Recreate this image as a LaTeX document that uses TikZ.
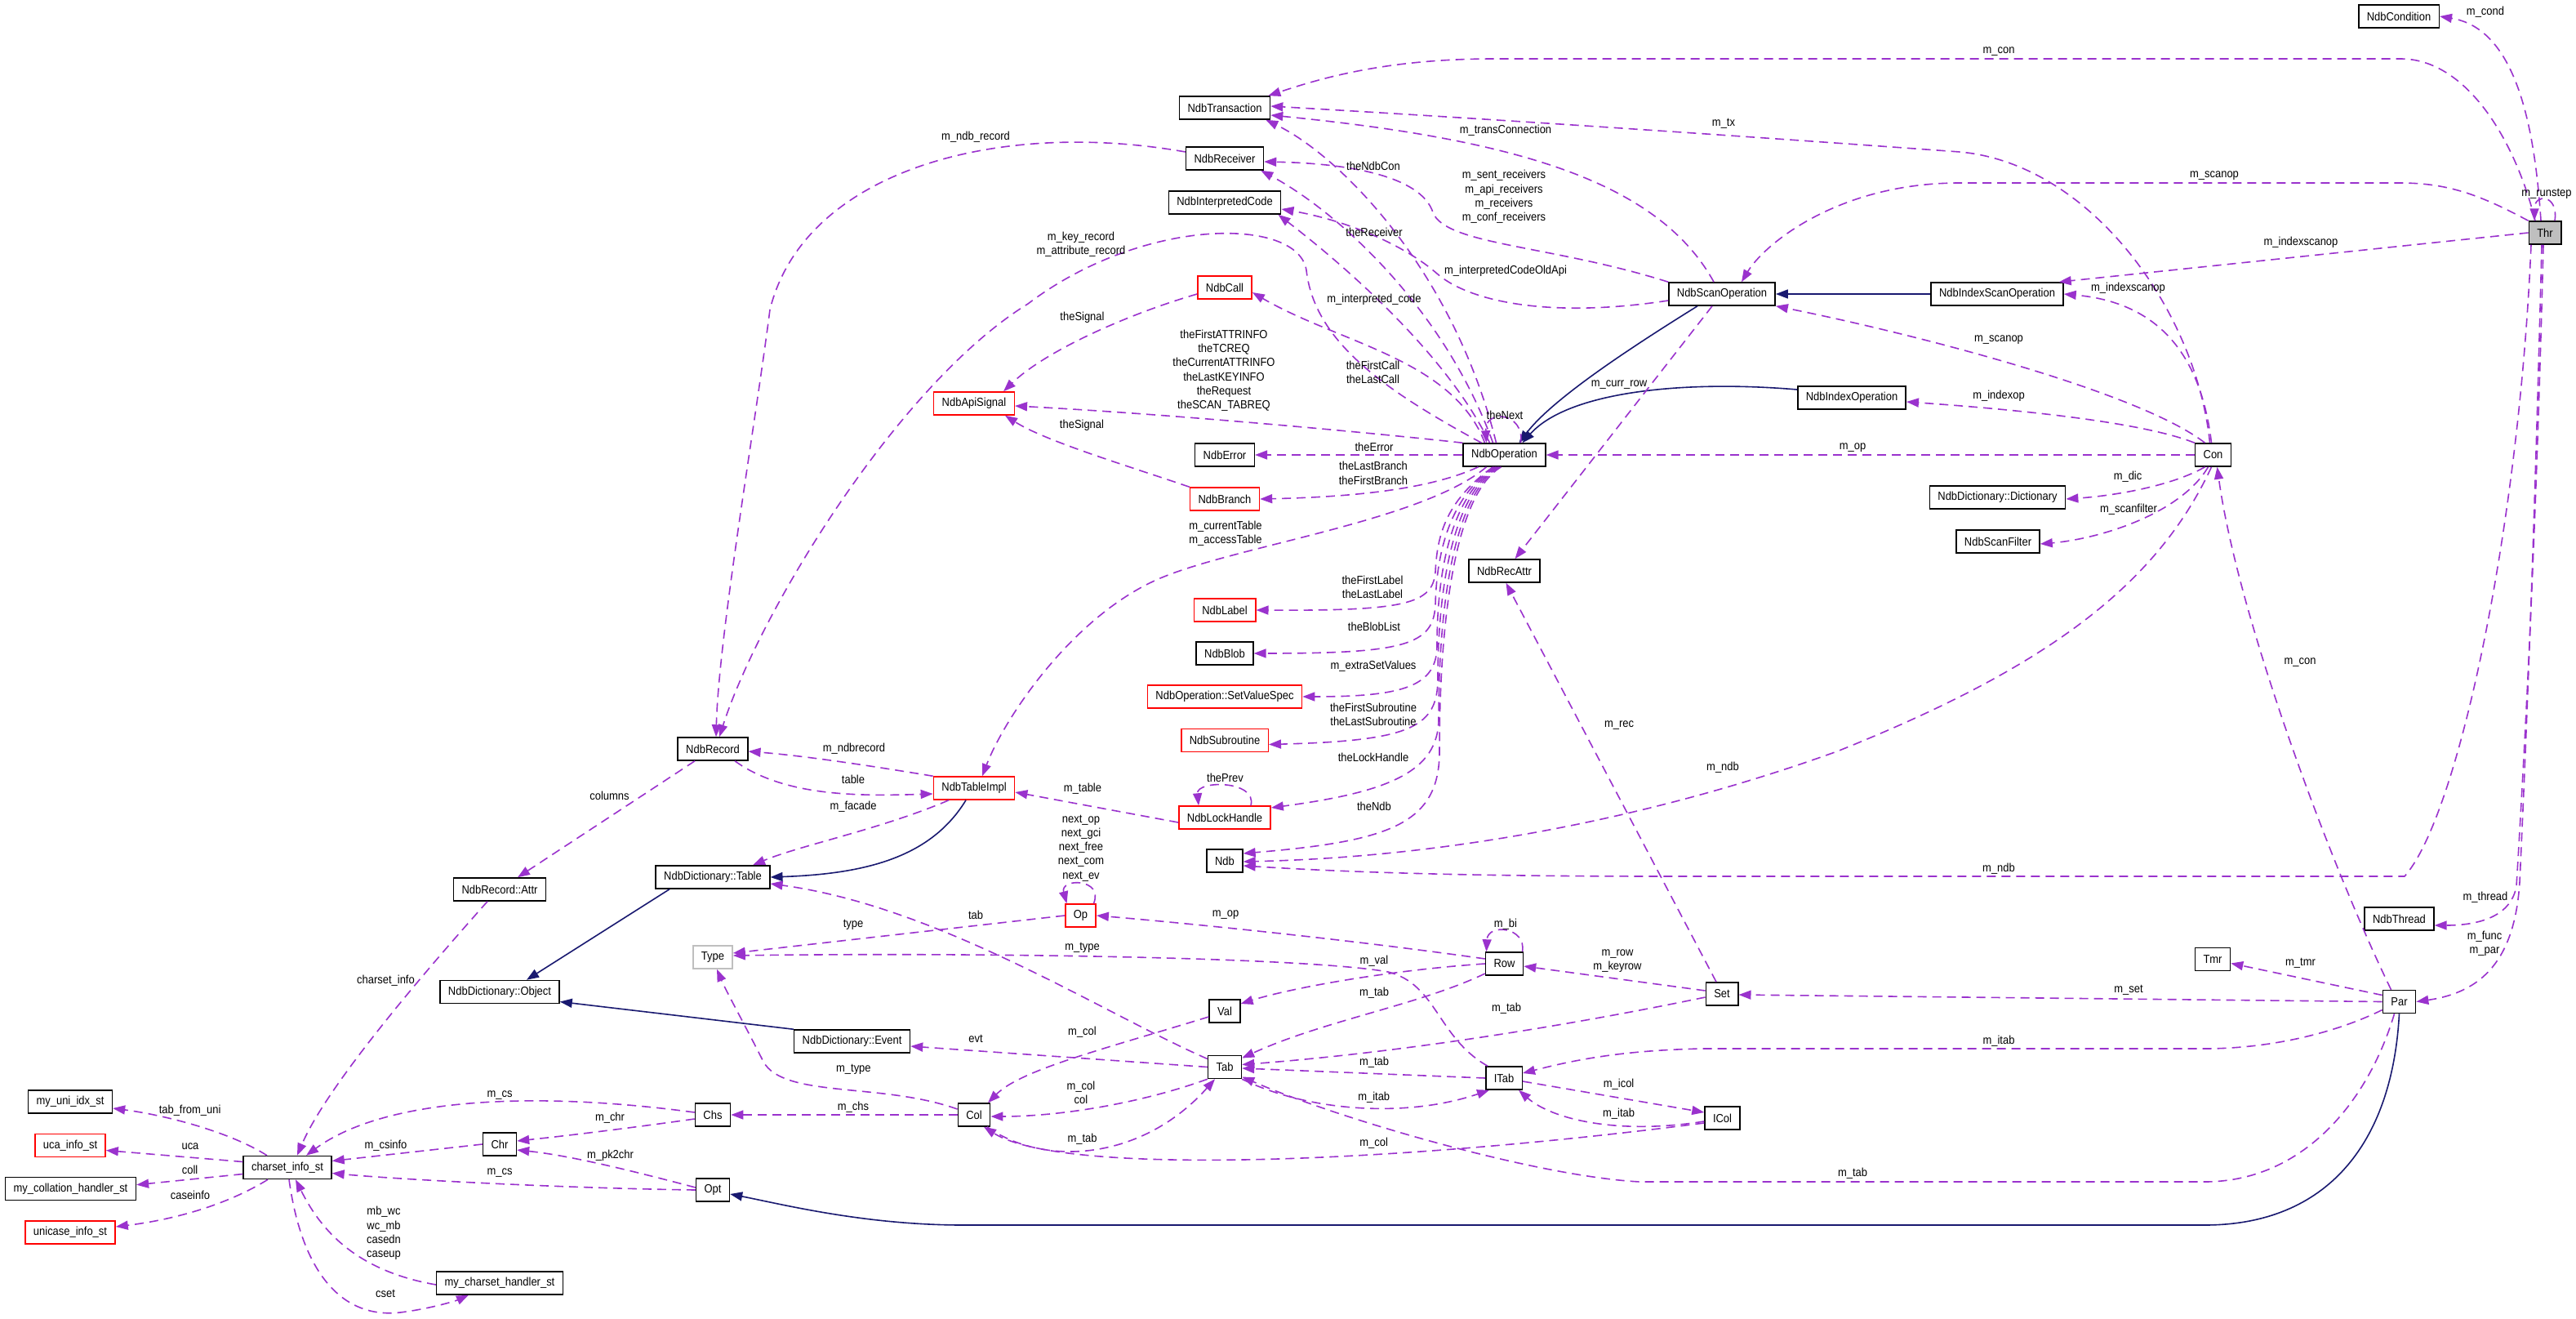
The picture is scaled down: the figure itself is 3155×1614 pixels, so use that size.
\documentclass[tikz,border=0pt]{standalone}
\usepackage{fontspec}
\setmainfont{Liberation Sans}[FakeStretch=0.9]
\usetikzlibrary{arrows.meta}
\definecolor{orch}{HTML}{9A32CD}
\definecolor{mblue}{HTML}{191970}
\definecolor{greyl}{HTML}{BFBFBF}
\newcommand\lbl{\fontsize{14.4}{17.2}\selectfont}
\begin{document}
\begin{tikzpicture}[x=1pt,y=-1pt,
 cls/.style={draw=black, line width=1.5pt, fill=white, minimum height=28pt, inner xsep=10pt, inner ysep=0pt, font=\lbl},
 redc/.style={cls, draw=red},
 uses/.style={draw=orch, line width=1.6pt, dash pattern=on 11pt off 7pt, -{Triangle[length=15pt,width=11pt]}},
 inh/.style={draw=mblue, line width=1.6pt, -{Triangle[length=15pt,width=11pt]}},
 lab/.style={font=\lbl, align=center, inner sep=0pt}]
\useasboundingbox (0,0) rectangle (3155,1614);
\fill[white] (0,0) rectangle (3155,1614);
% nodes
\node[cls] (ncond) at (2938,20) {NdbCondition};
\node[cls,fill=greyl] (thr) at (3117,285) {Thr};
\node[cls] (ntrans) at (1500,132) {NdbTransaction};
\node[cls] (nrecv) at (1500,194) {NdbReceiver};
\node[cls] (nicode) at (1500,248) {NdbInterpretedCode};
\node[redc] (ncall) at (1500,352) {NdbCall};
\node[redc] (napisig) at (1193,494) {NdbApiSignal};
\node[cls] (nscanop) at (2109,360) {NdbScanOperation};
\node[cls] (nixscanop) at (2446,360) {NdbIndexScanOperation};
\node[cls] (nixop) at (2268,487) {NdbIndexOperation};
\node[cls] (nerr) at (1500,557) {NdbError};
\node[redc] (nbranch) at (1500,611) {NdbBranch};
\node[cls] (nop) at (1842.5,557) {NdbOperation};
\node[cls] (nrecattr) at (1842.5,699) {NdbRecAttr};
\node[cls] (con) at (2710.5,557) {Con};
\node[cls] (ndict) at (2446.5,609) {NdbDictionary::Dictionary};
\node[cls] (nsf) at (2447,663) {NdbScanFilter};
\node[redc] (nlabel) at (1500,747) {NdbLabel};
\node[cls] (nblob) at (1500,800) {NdbBlob};
\node[redc] (nsvs) at (1500,853) {NdbOperation::SetValueSpec};
\node[redc] (nsub) at (1500,906.5) {NdbSubroutine};
\node[redc] (nlock) at (1500,1001) {NdbLockHandle};
\node[cls] (ndb) at (1500,1054) {Ndb};
\node[redc] (ntimpl) at (1193,965) {NdbTableImpl};
\node[cls] (nrec) at (873,917) {NdbRecord};
\node[cls] (ndtable) at (873,1074) {NdbDictionary::Table};
\node[cls] (nrattr) at (612,1089) {NdbRecord::Attr};
\node[cls] (ndobj) at (612,1214.5) {NdbDictionary::Object};
\node[redc] (op) at (1323.5,1121) {Op};
\node[cls,draw=greyl] (type) at (873,1172) {Type};
\node[cls] (val) at (1500,1238) {Val};
\node[cls] (ndevt) at (1043.6,1275) {NdbDictionary::Event};
\node[cls] (tab) at (1500,1306.5) {Tab};
\node[cls] (chs) at (873,1365) {Chs};
\node[cls] (col) at (1193,1365) {Col};
\node[cls] (opt) at (873,1457) {Opt};
\node[cls] (row) at (1842.5,1180) {Row};
\node[cls] (set) at (2109,1217) {Set};
\node[cls] (itab) at (1842,1320) {ITab};
\node[cls] (icol) at (2109.5,1369) {ICol};
\node[cls] (nthread) at (2938.5,1125) {NdbThread};
\node[cls] (tmr) at (2710,1174.5) {Tmr};
\node[cls] (par) at (2938.5,1226.5) {Par};
\node[cls] (muni) at (86,1349) {my\_uni\_idx\_st};
\node[redc] (uca) at (86,1402.5) {uca\_info\_st};
\node[cls] (mcoll) at (86.5,1455.7) {my\_collation\_handler\_st};
\node[redc] (ucase) at (86,1509) {unicase\_info\_st};
\node[cls] (csi) at (352,1429.5) {charset\_info\_st};
\node[cls] (chr) at (612,1401) {Chr};
\node[cls] (mchs) at (612,1571) {my\_charset\_handler\_st};
% Thr edges
\draw[uses] ([xshift=-5pt]thr.north) .. controls (3104,150) and (3080,35) .. (ncond.east);
\draw[uses] ([xshift=-12pt]thr.north) .. controls (3080,170) and (3020,72) .. (2940,72) -- (1830,72) .. controls (1700,72) and (1620,95) .. ([xshift=-3pt]ntrans.north east);
\draw[uses] (thr.north west) .. controls (3040,240) and (3000,224) .. (2940,224) -- (2400,224) .. controls (2250,224) and (2160,300) .. ([xshift=24pt]nscanop.north);
\draw[uses] (thr.west) -- ([xshift=-6pt]nixscanop.north east);
\draw[uses] ([xshift=12pt]thr.north) .. controls (3134,238) and (3104,236) .. ([xshift=-13pt]thr.north);
\draw[uses] ([xshift=-2pt]thr.south) .. controls (3105,700) and (3090,950) .. (3082,1085) .. controls (3075,1125) and (3030,1133) .. ([yshift=-8pt]nthread.east);
\draw[uses] ([xshift=-4pt]thr.south) .. controls (3103,700) and (3092,950) .. (3086,1080) .. controls (3080,1175) and (3040,1215) .. (par.east);
\draw[uses] ([xshift=-17pt]thr.south) .. controls (3085,650) and (3010,1000) .. (2945,1073) -- (2040,1073) .. controls (1800,1073) and (1650,1068) .. ([yshift=-6pt]ndb.east);
% Con edges
\draw[uses] ([xshift=-4pt]con.north) .. controls (2690,380) and (2560,200) .. (2400,186) .. controls (2250,175) and (1900,150) .. ([yshift=2pt]ntrans.east);
\draw[uses] ([xshift=-10pt]con.north) .. controls (2620,480) and (2350,410) .. (nscanop.south east);
\draw[uses] ([xshift=-2pt]con.north) .. controls (2695,430) and (2640,370) .. (nixscanop.east);
\draw[uses] (con.north west) .. controls (2620,515) and (2450,500) .. ([yshift=-5pt]nixop.east);
\draw[uses] (con.west) -- (nop.east);
\draw[uses] ([xshift=-10pt]con.south) .. controls (2660,595) and (2590,607) .. ([yshift=-2pt]ndict.east);
\draw[uses] ([xshift=-6pt]con.south) .. controls (2670,630) and (2570,660) .. ([yshift=-3pt]nsf.east);
\draw[uses] ([xshift=-2pt]con.south) .. controls (2640,720) and (2500,820) .. (2250,920) .. controls (2000,1010) and (1750,1050) .. ([yshift=-1pt]ndb.east);
% Par edges
\draw[uses] ([xshift=-10pt]par.north) .. controls (2850,1050) and (2740,750) .. ([xshift=5pt]con.south);
\draw[uses] ([yshift=8pt]par.west) -- ([yshift=-5pt]tmr.east);
\draw[uses] (par.west) -- ([yshift=-1pt]set.east);
\draw[uses] ([yshift=-10pt]par.west) .. controls (2860,1265) and (2780,1284) .. (2700,1284) -- (2085,1284) .. controls (1980,1286) and (1920,1300) .. ([yshift=6pt]itab.east);
\draw[uses] ([xshift=-6pt]par.south) .. controls (2900,1350) and (2820,1447) .. (2700,1447) -- (2008,1447) .. controls (1880,1440) and (1640,1370) .. ([yshift=-12pt]tab.east);
\draw[inh] (par.south) .. controls (2930,1400) and (2850,1500) .. (2700,1500) -- (1180,1500) .. controls (1060,1500) and (960,1475) .. ([yshift=-5pt]opt.east);
% NdbScanOperation edges
\draw[uses] ([xshift=-10pt]nscanop.north) .. controls (2030,220) and (1850,170) .. ([yshift=-9pt]ntrans.east);
\draw[uses] (nscanop.north west) .. controls (1900,300) and (1770,300) .. (1755,260) .. controls (1740,215) and (1650,200) .. ([yshift=-4pt]nrecv.east);
\draw[uses] ([yshift=-8pt]nscanop.west) .. controls (1900,390) and (1800,370) .. (1760,335) .. controls (1720,300) and (1650,270) .. ([yshift=-8pt]nicode.east);
\draw[inh] ([xshift=-30pt]nscanop.south) .. controls (1990,430) and (1900,490) .. ([xshift=18pt]nop.north);
\draw[inh] ([yshift=10pt]nixop.west) .. controls (2060,465) and (1920,480) .. ([xshift=22pt]nop.north);
\draw[inh] (nixscanop.west) -- (nscanop.east);
\draw[uses] ([xshift=-12pt]nscanop.south) -- ([xshift=13pt]nrecattr.north);
% NdbOperation edges
\draw[uses] ([xshift=-10pt]nop.north) .. controls (1780,330) and (1640,190) .. ([xshift=-6pt]ntrans.south east);
\draw[uses] ([xshift=-14pt]nop.north) .. controls (1770,380) and (1640,260) .. ([xshift=-4pt]nrecv.south east);
\draw[uses] ([xshift=-18pt]nop.north) .. controls (1770,430) and (1640,320) .. ([xshift=-4pt]nicode.south east);
\draw[uses] ([xshift=-24pt]nop.north) .. controls (1780,440) and (1640,420) .. ([yshift=-6pt]ncall.east);
\draw[uses] ([xshift=-28pt]nop.north) .. controls (1700,480) and (1610,420) .. (1600,331) .. controls (1590,265) and (1400,265) .. (1259,372) .. controls (1100,470) and (930,750) .. ([xshift=8pt]nrec.north);
\draw[uses] (nop.north west) .. controls (1700,532) and (1450,508) .. ([yshift=-3pt]napisig.east);
\draw[uses] (nop.west) -- (nerr.east);
\draw[uses] ([xshift=-32pt]nop.south) .. controls (1760,595) and (1680,608) .. (nbranch.east);
\draw[uses] ([xshift=-22pt]nop.south) .. controls (1740,640) and (1500,670) .. (1412,712) .. controls (1310,760) and (1230,880) .. ([xshift=10pt]ntimpl.north);
\draw[uses] ([xshift=-14pt]nop.south) .. controls (1768,615) and (1760,660) .. (1758,700) .. controls (1755,740) and (1720,748) .. (nlabel.east);
\draw[uses] ([xshift=-12pt]nop.south) .. controls (1766,615) and (1759,700) .. (1758,740) .. controls (1756,790) and (1720,800) .. (nblob.east);
\draw[uses] ([xshift=-10pt]nop.south) .. controls (1765,615) and (1760,740) .. (1760,790) .. controls (1760,840) and (1720,853) .. (nsvs.east);
\draw[uses] ([xshift=-8pt]nop.south) .. controls (1765,615) and (1761,780) .. (1761,830) .. controls (1761,890) and (1730,907) .. ([yshift=-5pt]nsub.east);
\draw[uses] ([xshift=-6pt]nop.south) .. controls (1765,615) and (1762,820) .. (1762,880) .. controls (1762,945) and (1700,970) .. ([yshift=12pt]nlock.east);
\draw[uses] ([xshift=-4pt]nop.south) .. controls (1766,615) and (1763,850) .. (1763,920) .. controls (1763,1010) and (1700,1030) .. ([yshift=9pt]ndb.east);
\draw[uses] ([xshift=20pt]nop.north) .. controls (1868,505) and (1818,500) .. ([xshift=-22pt]nop.north);
% NdbCall, NdbBranch
\draw[uses] ([yshift=-8pt]ncall.west) .. controls (1380,385) and (1280,430) .. ([xshift=36pt]napisig.north);
\draw[uses] (nbranch.north west) .. controls (1380,570) and (1280,540) .. ([xshift=38pt]napisig.south);
% Set, Row
\draw[uses] ([xshift=-7pt]set.north) -- ([xshift=2pt]nrecattr.south);
\draw[uses] ([yshift=4pt]set.west) -- ([yshift=-3pt]row.east);
\draw[uses] ([yshift=-4pt]set.west) .. controls (1900,1260) and (1700,1290) .. ([yshift=3pt]tab.east);
\draw[uses] (row.west) .. controls (1700,1188) and (1580,1210) .. ([yshift=9pt]val.east);
\draw[uses] ([yshift=6pt]row.west) .. controls (1650,1150) and (1450,1130) .. (op.east);
\draw[uses] ([yshift=-12pt]row.west) .. controls (1740,1230) and (1620,1250) .. ([yshift=11pt]tab.east);
\draw[uses] ([xshift=22pt]row.north) .. controls (1870,1135) and (1822,1130) .. ([xshift=-22pt]row.north);
% ITab
\draw[uses] ([xshift=-20pt]itab.north) .. controls (1760,1270) and (1760,1205) .. (1700,1190) .. controls (1600,1172) and (1200,1166) .. ([yshift=2pt]type.east);
\draw[uses] (itab.west) -- ([yshift=-1.5pt]tab.east);
\draw[uses] ([yshift=-4pt]itab.east) -- ([yshift=7pt]icol.west);
% Tab, ICol, Col
\draw[uses] (tab.south east) .. controls (1600,1360) and (1720,1370) .. ([xshift=-18pt]itab.south);
\draw[uses] ([yshift=-4pt]icol.west) .. controls (1980,1390) and (1900,1370) .. ([xshift=18pt]itab.south);
\draw[uses] ([yshift=-6pt]icol.west) .. controls (1700,1425) and (1300,1440) .. ([xshift=12pt]col.south);
\draw[uses] ([yshift=-7pt]val.west) .. controls (1350,1285) and (1250,1310) .. ([xshift=17pt]col.north);
\draw[uses] (tab.south west) .. controls (1400,1350) and (1300,1367) .. ([yshift=-2pt]col.east);
\draw[uses] ([xshift=16pt]col.south) .. controls (1280,1430) and (1400,1420) .. ([xshift=-12pt]tab.south);
\draw[uses] (tab.west) -- ([yshift=-6pt]ndevt.east);
\draw[uses] ([yshift=10pt]tab.west) .. controls (1350,1240) and (1150,1110) .. ([yshift=-8pt]ndtable.east);
\draw[uses] (col.west) -- (chs.east);
\draw[uses] ([yshift=7pt]col.west) .. controls (1080,1325) and (960,1345) .. (935,1300) .. controls (915,1260) and (890,1215) .. ([xshift=5pt]type.south);
\draw[uses] (op.west) -- ([yshift=5pt]type.east);
\draw[uses] ([xshift=16pt]op.north) .. controls (1352,1075) and (1298,1075) .. ([xshift=-17pt]op.north);
% Opt, Chs, Chr
\draw[uses] ([yshift=3pt]opt.west) .. controls (780,1435) and (700,1415) .. ([yshift=-7pt]chr.east);
\draw[uses] (opt.west) .. controls (700,1455) and (500,1445) .. ([yshift=-7pt]csi.east);
\draw[uses] ([yshift=-5pt]chs.west) .. controls (780,1380) and (700,1390) .. ([yshift=4pt]chr.east);
\draw[uses] ([yshift=3pt]chs.west) .. controls (650,1335) and (470,1345) .. ([xshift=23pt]csi.north);
\draw[uses] (chr.west) -- ([yshift=8pt]csi.east);
% NdbRecord etc
\draw[uses] ([xshift=-15pt]nrattr.south) .. controls (520,1190) and (400,1330) .. ([xshift=12pt]csi.north);
\draw[uses] ([xshift=-22pt]nrec.south) -- ([xshift=22pt]nrattr.north);
\draw[uses] (ntimpl.north west) .. controls (1050,935) and (980,925) .. ([yshift=-3pt]nrec.east);
\draw[uses] ([xshift=27pt]nrec.south) .. controls (960,975) and (1050,975) .. ([yshift=-7pt]ntimpl.west);
\draw[uses] ([xshift=-31pt]ntimpl.south) .. controls (1080,1015) and (980,1035) .. ([xshift=49pt]ndtable.north);
\draw[inh] ([xshift=-10pt]ntimpl.south) .. controls (1140,1050) and (1060,1070) .. (ndtable.east);
\draw[uses] ([yshift=-6pt]nlock.west) -- ([yshift=-5pt]ntimpl.east);
\draw[uses] ([xshift=32pt]nlock.north) .. controls (1540,955) and (1465,955) .. ([xshift=-32pt]nlock.north);
\draw[uses] ([yshift=8pt]nrecv.west) .. controls (1220,145) and (985,210) .. (943,379) .. controls (925,520) and (880,780) .. ([xshift=4pt]nrec.north);
\draw[inh] ([xshift=-53pt]ndtable.south) -- ([xshift=33pt]ndobj.north);
\draw[inh] (ndevt.north west) -- ([yshift=-12pt]ndobj.east);
% charset_info_st
\draw[uses] ([xshift=-25pt]csi.north) .. controls (280,1385) and (200,1365) .. ([yshift=-8pt]muni.east);
\draw[uses] ([yshift=7pt]csi.west) -- ([yshift=-6pt]uca.east);
\draw[uses] ([yshift=-8pt]csi.west) -- ([yshift=5pt]mcoll.east);
\draw[uses] ([xshift=-24pt]csi.south) .. controls (270,1480) and (200,1495) .. ([yshift=7pt]ucase.east);
\draw[uses] ([xshift=2pt]csi.south) .. controls (370,1560) and (420,1615) .. (490,1607) .. controls (530,1602) and (560,1592) .. ([xshift=-38pt]mchs.south);
\draw[uses] ([yshift=-2pt]mchs.west) .. controls (430,1555) and (390,1500) .. ([xshift=10pt]csi.south);
% labels
\node[lab] (l1) at (3044,15) {m\_cond};
\node[lab] (l2) at (2448,63) {m\_con};
\node[lab] (l3) at (2712,215) {m\_scanop};
\node[lab] (l4) at (2818,297) {m\_indexscanop};
\node[lab] (l5) at (3119,237) {m\_runstep};
\node[lab] (l6) at (3044,1099) {m\_thread};
\node[lab] (l7) at (3043,1155.5) {m\_func\\m\_par};
\node[lab] (l8) at (2448,1064) {m\_ndb};
\node[lab] (l9) at (2111,151) {m\_tx};
\node[lab] (l10) at (2448,416) {m\_scanop};
\node[lab] (l11) at (2606.5,352.7) {m\_indexscanop};
\node[lab] (l12) at (2448,485) {m\_indexop};
\node[lab] (l13) at (2269,548) {m\_op};
\node[lab] (l14) at (2606,583.7) {m\_dic};
\node[lab] (l15) at (2607,623.7) {m\_scanfilter};
\node[lab] (l16) at (2110,939.5) {m\_ndb};
\node[lab] (l17) at (2817,811) {m\_con};
\node[lab] (l18) at (2817.5,1179) {m\_tmr};
\node[lab] (l19) at (2607,1212) {m\_set};
\node[lab] (l20) at (2448,1275) {m\_itab};
\node[lab] (l21) at (2269,1436.6) {m\_tab};
\node[lab] (l22) at (1844,159.5) {m\_transConnection};
\node[lab] (l23) at (1842,241) {m\_sent\_receivers\\m\_api\_receivers\\m\_receivers\\m\_conf\_receivers};
\node[lab] (l24) at (1844,331.7) {m\_interpretedCodeOldApi};
\node[lab] (l25) at (1983,471) {m\_curr\_row};
\node[lab] (l26) at (1682,203.5) {theNdbCon};
\node[lab] (l27) at (1683,284.5) {theReceiver};
\node[lab] (l28) at (1683,366.8) {m\_interpreted\_code};
\node[lab] (l29) at (1681.5,456) {theFirstCall\\theLastCall};
\node[lab] (l30) at (1324,299) {m\_key\_record\\m\_attribute\_record};
\node[lab] (l31) at (1499,453.8) {theFirstATTRINFO\\theTCREQ\\theCurrentATTRINFO\\theLastKEYINFO\\theRequest\\theSCAN\_TABREQ};
\node[lab] (l32) at (1325.5,388.5) {theSignal};
\node[lab] (l33) at (1325,521) {theSignal};
\node[lab] (l34) at (1683,547.6) {theError};
\node[lab] (l35) at (1682,579.3) {theLastBranch\\theFirstBranch};
\node[lab] (l36) at (1501,653.6) {m\_currentTable\\m\_accessTable};
\node[lab] (l37) at (1681,719) {theFirstLabel\\theLastLabel};
\node[lab] (l38) at (1683,767) {theBlobList};
\node[lab] (l39) at (1682,815.5) {m\_extraSetValues};
\node[lab] (l40) at (1682,874.7) {theFirstSubroutine\\theLastSubroutine};
\node[lab] (l41) at (1682,927.5) {theLockHandle};
\node[lab] (l42) at (1683,987) {theNdb};
\node[lab] (l43) at (1843,508.7) {theNext};
\node[lab] (l44) at (1983,888) {m\_rec};
\node[lab] (l45) at (1981,1176.5) {m\_row\\m\_keyrow};
\node[lab] (l46) at (1845,1235) {m\_tab};
\node[lab] (l47) at (1683,1177) {m\_val};
\node[lab] (l48) at (1501,1120) {m\_op};
\node[lab] (l49) at (1683,1215.6) {m\_tab};
\node[lab] (l50) at (1844,1132) {m\_bi};
\node[lab] (l51) at (1325.5,1160) {m\_type};
\node[lab] (l52) at (1683,1300.7) {m\_tab};
\node[lab] (l53) at (1982.6,1327.6) {m\_icol};
\node[lab] (l54) at (1682.7,1344) {m\_itab};
\node[lab] (l55) at (1982.6,1363.7) {m\_itab};
\node[lab] (l56) at (1682.7,1399.5) {m\_col};
\node[lab] (l57) at (1325.5,1264) {m\_col};
\node[lab] (l58) at (1324,1338) {m\_col\\col};
\node[lab] (l59) at (1325.5,1395) {m\_tab};
\node[lab] (l60) at (1195,1272) {evt};
\node[lab] (l61) at (1195,1120) {tab};
\node[lab] (l62) at (1045,1356) {m\_chs};
\node[lab] (l63) at (1045.4,1309) {m\_type};
\node[lab] (l64) at (1045,1132) {type};
\node[lab] (l65) at (1324,1038.4) {next\_op\\next\_gci\\next\_free\\next\_com\\next\_ev};
\node[lab] (l66) at (747.5,1415) {m\_pk2chr};
\node[lab] (l67) at (612,1436) {m\_cs};
\node[lab] (l68) at (747,1369) {m\_chr};
\node[lab] (l69) at (612,1341) {m\_cs};
\node[lab] (l70) at (472.5,1403) {m\_csinfo};
\node[lab] (l71) at (472.5,1201) {charset\_info};
\node[lab] (l72) at (746.5,974.6) {columns};
\node[lab] (l73) at (1046,916.4) {m\_ndbrecord};
\node[lab] (l74) at (1045,954) {table};
\node[lab] (l75) at (1045,987.4) {m\_facade};
\node[lab] (l76) at (1326,966) {m\_table};
\node[lab] (l77) at (1500.5,952) {thePrev};
\node[lab] (l78) at (1195,168) {m\_ndb\_record};
\node[lab] (l79) at (232.6,1360) {tab\_from\_uni};
\node[lab] (l80) at (233,1404) {uca};
\node[lab] (l81) at (232.6,1432.5) {coll};
\node[lab] (l82) at (233,1463) {caseinfo};
\node[lab] (l83) at (472,1584) {cset};
\node[lab] (l84) at (470,1510) {mb\_wc\\wc\_mb\\casedn\\caseup};
\end{tikzpicture}
\end{document}
